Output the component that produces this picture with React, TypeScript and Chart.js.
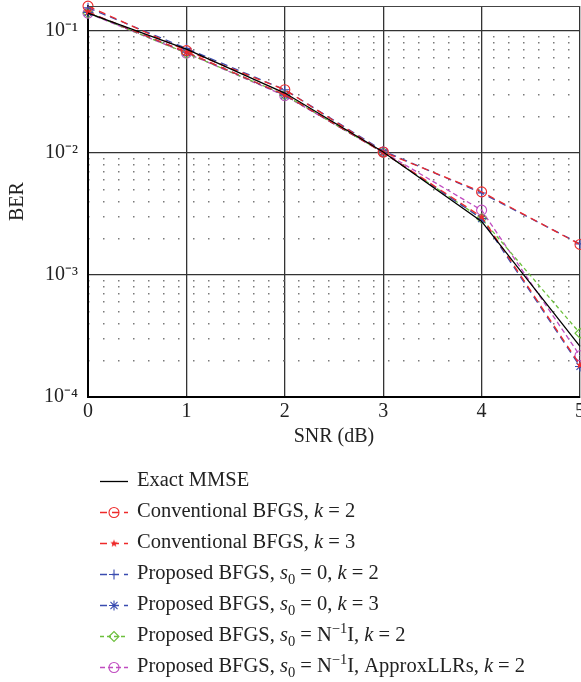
import React, { useEffect, useRef } from "react";
import { Chart, registerables } from "chart.js";
import { drawPoint } from "chart.js/helpers";

Chart.register(...registerables);

// ---------- data ----------
const snr = [0, 1, 2, 3, 4, 5];
const exactMMSE = [0.14, 0.071, 0.031, 0.0102, 0.00275, 0.00026];
const convK2 = [0.16, 0.069, 0.033, 0.0102, 0.0048, 0.00178];
const convK3 = [0.143, 0.067, 0.03, 0.0101, 0.003, 0.000183];
const propZeroK2 = [0.155, 0.072, 0.033, 0.0104, 0.0047, 0.0018];
const propZeroK3 = [0.142, 0.067, 0.0298, 0.0101, 0.0029, 0.000178];
const propNK2 = [0.141, 0.066, 0.0299, 0.0101, 0.0029, 0.000333];
const propApprox = [0.14, 0.066, 0.0295, 0.0102, 0.0034, 0.000218];

const xTicks = [0, 1, 2, 3, 4, 5];
const yTicks = [1e-4, 1e-3, 1e-2, 1e-1];
const yTickLabels = ["10⁻⁴", "10⁻³", "10⁻²", "10⁻¹"];
const minorMultipliers = [2, 3, 4, 5, 6, 7, 8, 9];

type Seg = [string, "n" | "i" | "sub" | "sup"];
const legendLabels: Seg[][] = [
  [["Exact MMSE", "n"]],
  [["Conventional BFGS, ", "n"], ["k", "i"], [" = 2", "n"]],
  [["Conventional BFGS, ", "n"], ["k", "i"], [" = 3", "n"]],
  [["Proposed BFGS, ", "n"], ["s", "i"], ["0", "sub"], [" = 0, ", "n"], ["k", "i"], [" = 2", "n"]],
  [["Proposed BFGS, ", "n"], ["s", "i"], ["0", "sub"], [" = 0, ", "n"], ["k", "i"], [" = 3", "n"]],
  [["Proposed BFGS, ", "n"], ["s", "i"], ["0", "sub"], [" = N", "n"], ["−1", "sup"], ["I, ", "n"], ["k", "i"], [" = 2", "n"]],
  [["Proposed BFGS, ", "n"], ["s", "i"], ["0", "sub"], [" = N", "n"], ["−1", "sup"], ["I, ApproxLLRs, ", "n"], ["k", "i"], [" = 2", "n"]],
];

const FONT = '"Liberation Serif", "Times New Roman", serif';
const TEXT = "#222";

const RED = "#ee2a2a";
const BLUE = "#3a4cb0";
const GREEN = "#6cbf3c";
const MAGENTA = "#c04cc0";

const LEG_X0 = 100;
const LEG_X1 = 128;
const LEG_MX = 114;
const LEG_TX = 137;
const LEG_Y0 = 481;
const LEG_DY = 31;

function makeFilledStar(color: string, r: number) {
  const size = Math.ceil(r * 2 + 2);
  const c = document.createElement("canvas");
  c.width = size;
  c.height = size;
  const g = c.getContext("2d")!;
  const cx = size / 2;
  const cy = size / 2;
  g.fillStyle = color;
  g.beginPath();
  for (let k = 0; k < 10; k++) {
    const rad = k % 2 === 0 ? r : r * 0.42;
    const a = -Math.PI / 2 + (k * Math.PI) / 5;
    const px = cx + rad * Math.cos(a);
    const py = cy + rad * Math.sin(a);
    if (k === 0) g.moveTo(px, py);
    else g.lineTo(px, py);
  }
  g.closePath();
  g.fill();
  return c;
}

const legendPlugin = {
  id: "customLegend",
  afterDraw(chart: any) {
    const ctx: CanvasRenderingContext2D = chart.ctx;
    const area = chart.chartArea;
    ctx.save();
    ctx.strokeStyle = "#444";
    ctx.lineWidth = 1;
    ctx.beginPath();
    ctx.moveTo(area.left, Math.round(area.top) + 0.5);
    ctx.lineTo(area.right, Math.round(area.top) + 0.5);
    ctx.stroke();
    ctx.restore();

    chart.data.datasets.forEach((ds: any, i: number) => {
      const y = LEG_Y0 + i * LEG_DY;
      ctx.save();
      ctx.strokeStyle = ds.borderColor;
      ctx.lineWidth = ds.borderWidth;
      ctx.setLineDash(ds.borderDash || []);
      ctx.beginPath();
      ctx.moveTo(LEG_X0, y + 0.5);
      ctx.lineTo(LEG_X1, y + 0.5);
      ctx.stroke();
      ctx.setLineDash([]);
      if (ds.pointRadius > 0) {
        ctx.fillStyle = ds.pointBackgroundColor;
        ctx.strokeStyle = ds.pointBorderColor;
        ctx.lineWidth = ds.pointBorderWidth;
        drawPoint(
          ctx,
          { pointStyle: ds.pointStyle, radius: ds.pointRadius, rotation: 0, borderWidth: ds.pointBorderWidth },
          LEG_MX,
          y + 0.5
        );
      }
      let x = LEG_TX;
      ctx.fillStyle = TEXT;
      ctx.textAlign = "left";
      ctx.textBaseline = "middle";
      for (const [t, s] of legendLabels[i]) {
        const small = s === "sub" || s === "sup";
        ctx.font = `${s === "i" ? "italic " : ""}${small ? 14.5 : 20.5}px ${FONT}`;
        const dy = s === "sub" ? 6 : s === "sup" ? -7 : 0;
        ctx.fillText(t, x, y + dy);
        x += ctx.measureText(t).width;
      }
      ctx.restore();
    });
  },
};

function series(label: string, values: number[], color: string, dash: number[], style: any, radius: number, fill = false) {
  return {
    label,
    data: snr.map((x, i) => ({ x, y: values[i] })),
    borderColor: color,
    borderWidth: 1.3,
    borderDash: dash,
    pointStyle: style,
    pointRadius: radius,
    pointBorderColor: color,
    pointBackgroundColor: fill ? color : "rgba(0,0,0,0)",
    pointBorderWidth: 1.1,
    tension: 0,
    fill: false,
    clip: false as any,
  };
}

export default function App() {
  const ref = useRef<HTMLCanvasElement>(null);
  useEffect(() => {
    if (!ref.current) return;
    const minorTicks: number[] = [];
    yTicks.forEach((d) => minorMultipliers.forEach((m) => minorTicks.push(d * m)));
    const redStar = makeFilledStar(RED, 4);
    const chart = new Chart(ref.current, {
      type: "line",
      data: {
        datasets: [
          series("Exact MMSE", exactMMSE, "#000", [], false, 0),
          series("Conventional BFGS, k = 2", convK2, RED, [7, 5], "circle", 5),
          series("Conventional BFGS, k = 3", convK3, RED, [7, 5], redStar, 4),
          series("Proposed BFGS, s0 = 0, k = 2", propZeroK2, BLUE, [7, 5], "cross", 5),
          series("Proposed BFGS, s0 = 0, k = 3", propZeroK3, BLUE, [7, 5], "star", 5),
          series("Proposed BFGS, s0 = N^-1 I, k = 2", propNK2, GREEN, [4, 3], "rectRot", 5),
          series("Proposed BFGS, s0 = N^-1 I, ApproxLLRs, k = 2", propApprox, MAGENTA, [5, 3], "circle", 5),
        ] as any,
      },
      options: {
        animation: false,
        responsive: false,
        layout: { padding: { left: 0, right: 20, top: 6, bottom: 225 } },
        plugins: { legend: { display: false }, tooltip: { enabled: false } },
        scales: {
          x: {
            type: "linear",
            position: "bottom",
            min: 0,
            max: 5,
            afterBuildTicks: (s: any) => {
              s.ticks = xTicks.map((v) => ({ value: v }));
            },
            afterFit: (s: any) => {
              s.height = 60;
              s.paddingLeft = 0;
              s.paddingRight = 0;
            },
            ticks: { font: { family: FONT, size: 20 }, color: TEXT, padding: 3, callback: (v: any) => String(v) },
            grid: { color: "#333", lineWidth: 1.3, drawTicks: false },
            border: { color: "#000", width: 2 },
            title: { display: true, text: "SNR (dB)", font: { family: FONT, size: 20 }, color: TEXT, padding: { top: 0, bottom: 8 } },
          },
          y: {
            type: "logarithmic",
            position: "left",
            min: 1e-4,
            max: 0.16,
            afterBuildTicks: (s: any) => {
              s.ticks = yTicks.map((v) => ({ value: v }));
            },
            afterFit: (s: any) => {
              s.width = 88;
              s.paddingTop = 0;
              s.paddingBottom = 0;
            },
            ticks: {
              font: { family: FONT, size: 20 },
              color: TEXT,
              padding: 10,
              callback: (v: any) => {
                const i = yTicks.findIndex((t) => Math.abs(t - v) / t < 1e-6);
                return i >= 0 ? yTickLabels[i] : "";
              },
            },
            grid: { color: "#333", lineWidth: 1.3, drawTicks: false },
            border: { color: "#000", width: 2 },
            title: { display: true, text: "BER", font: { family: FONT, size: 20 }, color: TEXT, padding: { top: 6, bottom: 0 } },
          },
          yMinor: {
            type: "logarithmic",
            position: "right",
            min: 1e-4,
            max: 0.16,
            afterBuildTicks: (s: any) => {
              s.ticks = minorTicks.filter((v) => v < 0.16).map((v) => ({ value: v }));
            },
            afterFit: (s: any) => {
              s.width = 0;
              s.paddingTop = 0;
              s.paddingBottom = 0;
            },
            ticks: { display: false },
            grid: { color: "#7a7a7a", lineWidth: 1.5, drawTicks: false },
            border: { display: false, dash: [1.5, 13.5] },
          },
        },
      } as any,
      plugins: [legendPlugin],
    });
    return () => chart.destroy();
  }, []);
  return (
    <div style={{ position: "fixed", left: 0, top: 0, width: 581, height: 682, overflow: "hidden", background: "#fff" }}>
      <canvas ref={ref} width={600} height={682} style={{ display: "block" }} />
    </div>
  );
}
